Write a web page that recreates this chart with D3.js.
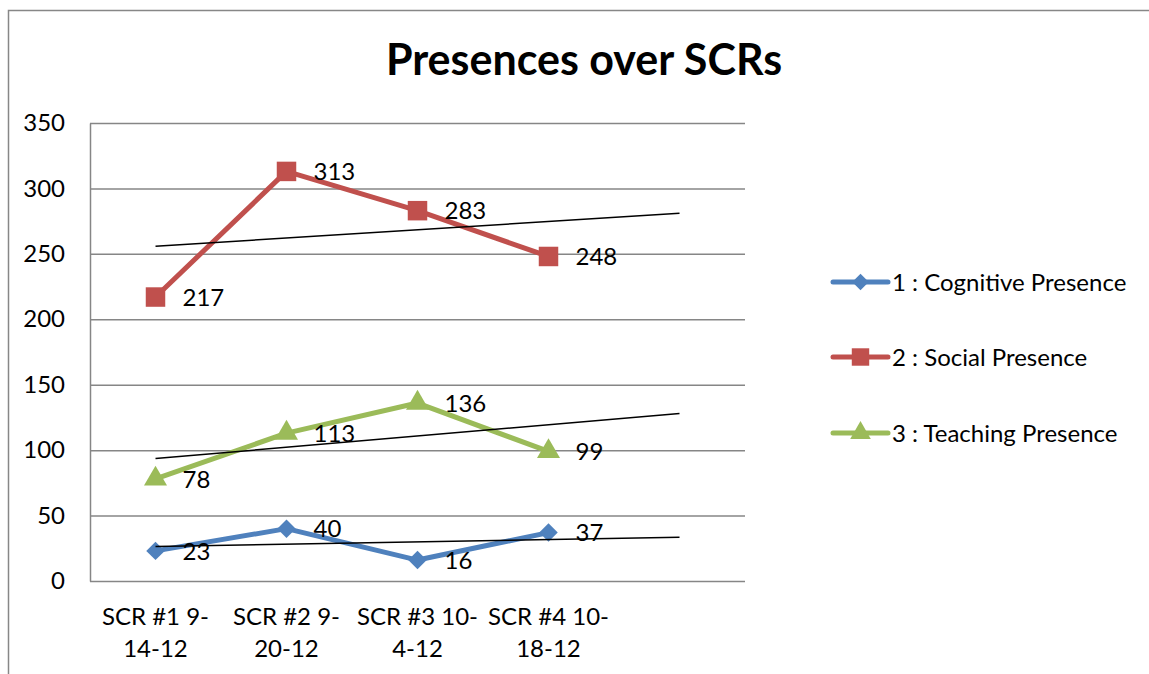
<!DOCTYPE html>
<html>
<head>
<meta charset="utf-8">
<script src="https://cdn.jsdelivr.net/npm/d3@7.9.0/dist/d3.min.js"></script>
<style>
  body { margin: 0; background: #fff; }
  svg { display: block; font-family: Lato, 'Open Sans', sans-serif; }
</style>
</head>
<body>
<div id="chart"></div>
<script>
// chart data
const categories = [['SCR #1 9-', '14-12'], ['SCR #2 9-', '20-12'], ['SCR #3 10-', '4-12'], ['SCR #4 10-', '18-12']];
const cognitive = [23, 40, 16, 37];
const social = [217, 313, 283, 248];
const teaching = [78, 113, 136, 99];
const yTicks = [0, 50, 100, 150, 200, 250, 300, 350];

const diamond = d3.symbolSquare; // rotated 45deg below
const series = [
  { name: '1 : Cognitive Presence', values: cognitive, color: '#4F81BD', shape: diamond, size: 170, rotate: 45 },
  { name: '2 : Social Presence', values: social, color: '#C0504D', shape: d3.symbolSquare, size: 380, rotate: 0 },
  { name: '3 : Teaching Presence', values: teaching, color: '#9BBB59', shape: d3.symbolTriangle, size: 230, rotate: 0 },
];

const width = 1149;
const height = 674;
const margin = { top: 123, right: 404, bottom: 93, left: 90 };
const fs = 24;

const svg = d3.select('#chart')
  .append('svg')
  .attr('width', width)
  .attr('height', height);

// outer chart border
svg.append('path')
  .attr('d', `M8.5,${height} V10.5 H${width}`)
  .attr('fill', 'none')
  .attr('stroke', '#878787')
  .attr('stroke-width', 1.5);

svg.append('text')
  .attr('x', 584)
  .attr('y', 75)
  .attr('text-anchor', 'middle')
  .attr('font-size', 43)
  .attr('font-weight', 'bold')
  .text('Presences over SCRs');

// 5 slots: the 4 SCRs plus one forecast period for the trendlines
const xScale = d3.scaleBand()
  .domain(d3.range(categories.length + 1))
  .range([margin.left, width - margin.right])
  .padding(0);
const xc = i => xScale(i) + xScale.bandwidth() / 2;

const yScale = d3.scaleLinear()
  .domain([0, 350])
  .range([height - margin.bottom, margin.top]);

// gridlines
svg.append('g')
  .attr('class', 'gridlines')
  .attr('transform', `translate(${margin.left}, 0)`)
  .call(d3.axisLeft(yScale).tickValues(yTicks).tickSize(-(width - margin.right - margin.left)).tickFormat(''))
  .call(g => g.select('.domain').remove())
  .call(g => g.selectAll('line').attr('stroke', '#868686').attr('stroke-width', 1.5));

// y axis
svg.append('g')
  .attr('transform', `translate(${margin.left}, 0)`)
  .call(d3.axisLeft(yScale).tickValues(yTicks).tickSize(0).tickPadding(25))
  .call(g => g.select('.domain').attr('stroke', '#868686').attr('stroke-width', 1.5))
  .call(g => g.selectAll('text').attr('font-size', fs).attr('font-family', 'Lato, sans-serif').attr('fill', '#000'));

// x labels
const xLab = svg.append('g');
categories.forEach((lines, i) => {
  const t = xLab.append('text')
    .attr('x', xc(i))
    .attr('y', 625)
    .attr('text-anchor', 'middle')
    .attr('font-size', fs);
  lines.forEach((l, j) => {
    t.append('tspan').attr('x', xc(i)).attr('dy', j === 0 ? 0 : 32).text(l);
  });
});

function linearFit(values) {
  const xs = values.map((_, i) => i + 1);
  const mx = d3.mean(xs), my = d3.mean(values);
  const slope = d3.sum(xs, (x, i) => (x - mx) * (values[i] - my)) / d3.sum(xs, x => (x - mx) ** 2);
  return x => my + slope * (x - mx);
}

const line = d3.line().x((d, i) => xc(i)).y(d => yScale(d));

series.forEach(s => {
  const g = svg.append('g');
  g.append('path')
    .datum(s.values)
    .attr('d', line)
    .attr('fill', 'none')
    .attr('stroke', s.color)
    .attr('stroke-width', 5)
    .attr('stroke-linejoin', 'round');

  g.selectAll('path.marker')
    .data(s.values)
    .join('path')
    .attr('class', 'marker')
    .attr('transform', (d, i) => `translate(${xc(i)},${yScale(d)}) rotate(${s.rotate})`)
    .attr('d', d3.symbol(s.shape, s.size))
    .attr('fill', s.color);

  g.selectAll('text')
    .data(s.values)
    .join('text')
    .attr('x', (d, i) => xc(i) + 27)
    .attr('y', d => yScale(d))
    .attr('dy', '0.36em')
    .attr('font-size', fs)
    .text(d => d);
});

// linear trendlines, forecast one period forward
series.forEach(s => {
  const f = linearFit(s.values);
  const n = s.values.length;
  svg.append('line')
    .attr('x1', xc(0)).attr('y1', yScale(f(1)))
    .attr('x2', xc(n)).attr('y2', yScale(f(n + 1)))
    .attr('stroke', '#000')
    .attr('stroke-width', 1.5);
});

// legend
const legendY = [282, 357, 433];
series.forEach((s, i) => {
  const g = svg.append('g').attr('transform', `translate(833, ${legendY[i]})`);
  g.append('line').attr('x1', 0).attr('x2', 55)
    .attr('stroke', s.color).attr('stroke-width', 5).attr('stroke-linecap', 'round');
  g.append('path').attr('transform', `translate(27.5,0) rotate(${s.rotate})`)
    .attr('d', d3.symbol(s.shape, s.size * 0.8)).attr('fill', s.color);
  g.append('text').attr('x', 59).attr('dy', '0.36em').attr('font-size', fs).text(s.name);
});
</script>
</body>
</html>
